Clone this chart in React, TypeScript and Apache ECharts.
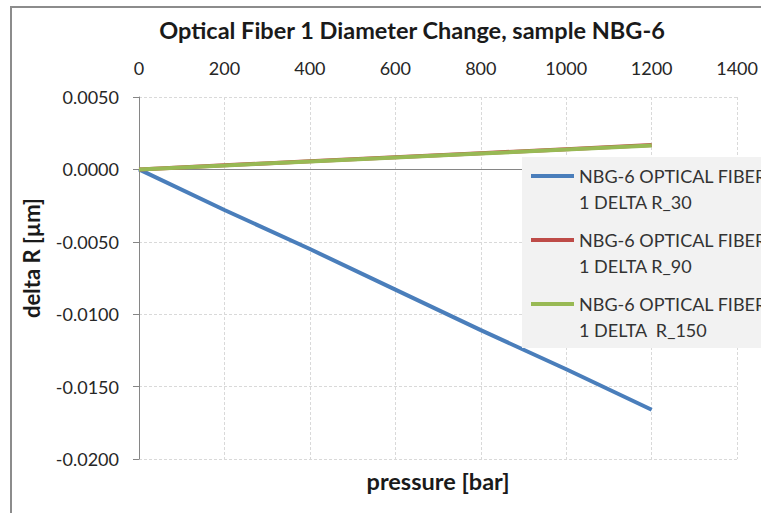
import React, { useEffect, useRef } from "react";
import * as echarts from "echarts";

const pressure = [0, 200, 400, 600, 800, 1000, 1200];
const deltaR30 = [0, -0.0028, -0.0055, -0.0083, -0.0111, -0.0138, -0.0166];
const deltaR90 = [0, 0.00028, 0.00056, 0.00084, 0.00112, 0.0014, 0.00168];
const deltaR150 = [0, 0.00027, 0.00055, 0.00082, 0.0011, 0.00137, 0.00165];

const seriesNames = [
  "NBG-6 OPTICAL FIBER 1 DELTA R_30",
  "NBG-6 OPTICAL FIBER 1 DELTA R_90",
  "NBG-6 OPTICAL FIBER 1 DELTA  R_150",
];
const legendLabels = [
  "NBG-6 OPTICAL FIBER\n1 DELTA R_30",
  "NBG-6 OPTICAL FIBER\n1 DELTA R_90",
  "NBG-6 OPTICAL FIBER\n1 DELTA  R_150",
];
const colors = ["#4A7EBB", "#BE4B48", "#98B954"];

const FONT = "Lato, 'Open Sans', sans-serif";

export default function App() {
  const ref = useRef<HTMLDivElement>(null);
  useEffect(() => {
    if (!ref.current) return;
    const chart = echarts.init(ref.current, undefined, { renderer: "svg" });
    const pair = (ys: number[]) => pressure.map((p, i) => [p, ys[i]]);
    chart.setOption({
      animation: false,
      backgroundColor: "#ffffff",
      title: {
        text: "Optical Fiber 1 Diameter Change, sample NBG-6",
        left: 407,
        textAlign: "center",
        top: 13,
        textStyle: { fontFamily: FONT, fontSize: 23.5, fontWeight: "bold", color: "#1a1a1a" },
      },
      graphic: [
        {
          type: "rect",
          shape: { x: 11, y: 7, width: 800, height: 600 },
          style: { fill: "none", stroke: "#8c8c8c", lineWidth: 2 },
          silent: true,
          z: 0,
        },
        {
          type: "rect",
          shape: { x: 522, y: 157, width: 300, height: 191 },
          style: { fill: "#F2F2F2" },
          silent: true,
          z: 5,
        },
      ],
      legend: {
        orient: "vertical",
        left: 531,
        top: 137,
        padding: 0,
        itemGap: -14,
        itemWidth: 43,
        itemHeight: 4,
        icon: "rect",
        z: 10,
        data: seriesNames,
        formatter: (name: string) => " \n" + legendLabels[seriesNames.indexOf(name)],
        textStyle: {
          fontFamily: FONT,
          fontSize: 18,
          lineHeight: 26,
          color: "#333333",
        },
      },
      grid: { left: 139, right: 22.5, top: 97, bottom: 54 },
      xAxis: [
        {
          type: "value",
          position: "top",
          min: 0,
          max: 1400,
          interval: 200,
          axisLine: { show: false },
          axisTick: { show: false },
          axisLabel: {
            fontFamily: FONT,
            fontSize: 18,
            color: "#262626",
            margin: 20,
            formatter: (v: number) => String(v),
          },
          splitLine: { show: true, lineStyle: { color: "#D9D9D9", type: [3, 2], width: 1 } },
        },
        {
          type: "value",
          position: "bottom",
          min: 0,
          max: 1400,
          axisLine: { show: false, onZero: false },
          axisTick: { show: false },
          axisLabel: { show: false },
          splitLine: { show: false },
          name: "pressure [bar]",
          nameLocation: "middle",
          nameGap: 10,
          nameTextStyle: { fontFamily: FONT, fontSize: 23.5, fontWeight: "bold", color: "#1a1a1a" },
        },
      ],
      yAxis: {
        type: "value",
        min: -0.02,
        max: 0.005,
        interval: 0.005,
        name: "delta R [µm]",
        nameLocation: "middle",
        nameRotate: 90,
        nameGap: 97,
        nameTextStyle: {
          fontFamily: FONT,
          fontSize: 22,
          fontWeight: "bold",
          color: "#1a1a1a",
          padding: [0, 0, 0, 40],
        },
        axisLine: { show: true, lineStyle: { color: "#868686", width: 1 } },
        axisTick: { show: true, length: 6, lineStyle: { color: "#868686" } },
        axisLabel: {
          fontFamily: FONT,
          fontSize: 18,
          color: "#262626",
          margin: 20,
          formatter: (v: number) => (Math.abs(v) < 1e-12 ? 0 : v).toFixed(4),
        },
        splitLine: { show: true, lineStyle: { color: "#D9D9D9", type: [3, 2], width: 1 } },
      },
      series: [
        {
          name: seriesNames[0],
          type: "line",
          data: pair(deltaR30),
          symbol: "none",
          lineStyle: { color: colors[0], width: 4 },
          itemStyle: { color: colors[0] },
          z: 3,
          markLine: {
            silent: true,
            symbol: "none",
            label: { show: false },
            lineStyle: { color: "#868686", type: "solid", width: 1 },
            data: [{ yAxis: 0 }],
            z: 1,
          },
        },
        {
          name: seriesNames[1],
          type: "line",
          data: pair(deltaR90),
          symbol: "none",
          lineStyle: { color: colors[1], width: 4 },
          itemStyle: { color: colors[1] },
          z: 3,
        },
        {
          name: seriesNames[2],
          type: "line",
          data: pair(deltaR150),
          symbol: "none",
          lineStyle: { color: colors[2], width: 4 },
          itemStyle: { color: colors[2] },
          z: 3,
        },
      ],
    });
    return () => chart.dispose();
  }, []);
  return (
    <div
      ref={ref}
      style={{ position: "absolute", left: 0, top: 0, width: 761, height: 513 }}
    />
  );
}
